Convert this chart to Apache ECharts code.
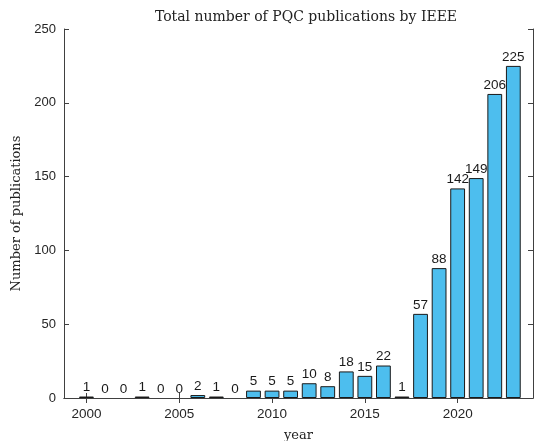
<!DOCTYPE html>
<html>
	<head>
		<meta charset="utf-8">
		<title></title>
		<style>
			html,body{margin:0;padding:0;background:#fff;}
			#main{width:535px;height:441px;}
		</style>
	</head>
	<body>
		<div id="main"></div>
		<script src="https://cdn.jsdelivr.net/npm/echarts@6/dist/echarts.min.js"></script>
		<script>
			// data
			var years=[2000,2001,2002,2003,2004,2005,2006,2007,2008,2009,2010,2011,2012,2013,2014,2015,2016,2017,2018,2019,2020,2021,2022,2023]
			var counts=[1,0,0,1,0,0,2,1,0,5,5,5,10,8,18,15,22,1,57,88,142,149,206,225]
			var xTicks=[2000,2005,2010,2015,2020]

			// zero bars get no outline, like the original
			var pts=years.map((y,i)=>{
				var o={value:[y,counts[i]]}
				if(counts[i]===0) o.itemStyle={borderWidth:0}
				return o
			})
			var tickCol='#404040'
			var sans='Liberation Sans, Arial, sans-serif'
			var serif='DejaVu Serif, Liberation Serif, serif'

			var mychart=echarts.init(document.getElementById("main"))
			var xBase={
				type:'value',
				min:1998.79,
				max:2024.06,
				splitLine:{show:false},
				axisLine:{show:true,lineStyle:{color:tickCol,width:1}},
				axisTick:{show:true,inside:true,length:5,customValues:xTicks,lineStyle:{color:tickCol}},
			}
			var yBase={
				type:'value',
				min:0,
				max:250,
				interval:50,
				splitLine:{show:false},
				axisLine:{show:true,lineStyle:{color:tickCol,width:1}},
				axisTick:{show:true,inside:true,length:5,lineStyle:{color:tickCol}},
			}
			var option={
				animation:false,
				title:{
					text:'Total number of PQC publications by IEEE',
					left:301,top:5,textAlign:'center',
					textStyle:{fontFamily:serif,fontSize:14,fontWeight:'normal',color:'#222'}
				},
				grid:{left:64,right:2,top:29,bottom:43,outerBoundsMode:'none',containLabel:false},
				xAxis:[
					Object.assign({},xBase,{
						position:'bottom',
						name:'year',nameLocation:'middle',nameGap:31,
						nameTextStyle:{fontFamily:serif,fontSize:13,color:'#222'},
						axisLabel:{customValues:xTicks,margin:9,fontFamily:sans,fontSize:13.5,color:'#262626',formatter:v=>String(v)}
					}),
					Object.assign({},xBase,{position:'top',axisLabel:{show:false}})
				],
				yAxis:[
					Object.assign({},yBase,{
						position:'left',
						name:'Number of publications',nameLocation:'middle',nameGap:37,
						nameTextStyle:{fontFamily:serif,fontSize:13,color:'#222'},
						axisLabel:{margin:8,fontFamily:sans,fontSize:13,color:'#262626'}
					}),
					Object.assign({},yBase,{position:'right',axisLabel:{show:false}})
				],
				series:[
					{
						type:'bar',
						data:pts,
						barWidth:14.8,
						itemStyle:{color:'#4DBEEE',borderColor:'#1a1a1a',borderWidth:1},
						label:{
							show:true,position:'top',distance:2,
							fontFamily:sans,fontSize:13.5,color:'#1a1a1a',
							formatter:p=>p.value[1]
						}
					}
				]
			};
			mychart.setOption(option);
		</script>
	</body>
</html>
